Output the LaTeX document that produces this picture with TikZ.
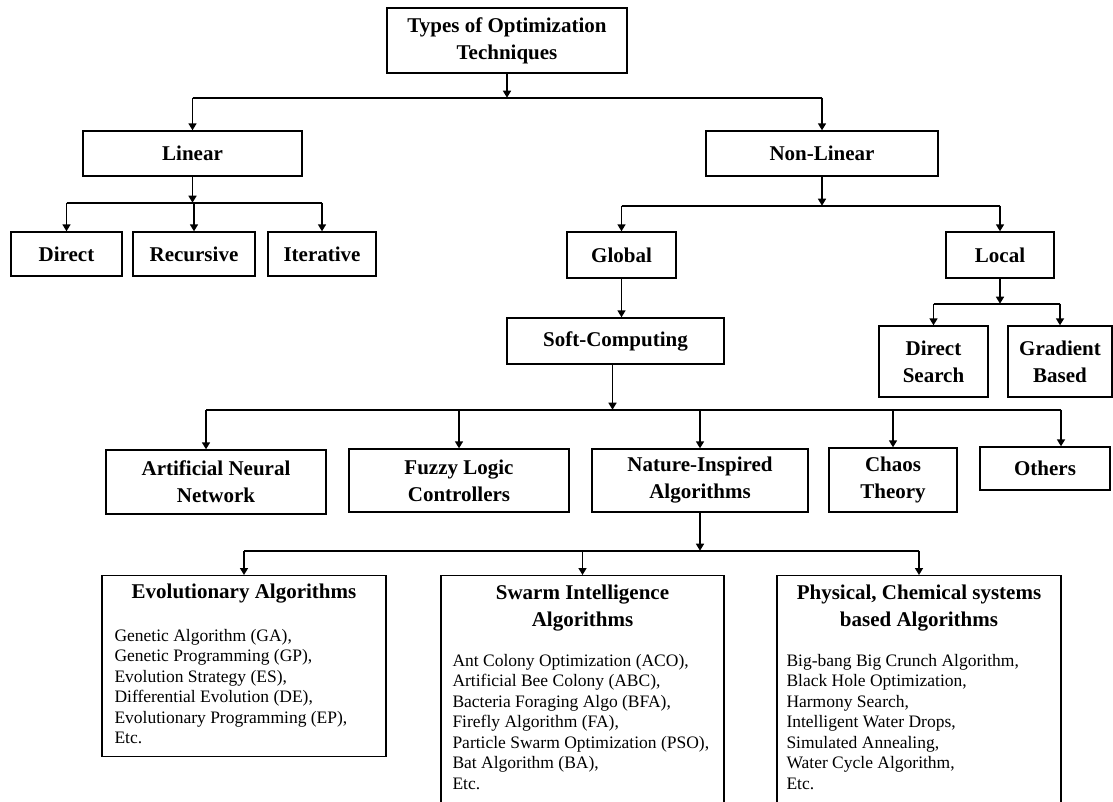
\documentclass[tikz,border=0pt]{standalone}
\usepackage{fontspec}
\setmainfont{Liberation Serif}
\usetikzlibrary{arrows.meta,calc}

\newcommand\hdfont{\fontsize{21}{27}\selectfont\bfseries}
\newcommand\lsfont{\fontsize{17.5}{20.5}\selectfont}

\tikzset{
  box/.style={draw=black, line width=1.4pt, fill=white, inner sep=0pt,
              align=center, font=\hdfont},
  arr/.style={-{Triangle[length=7pt,width=8pt]}, line width=1.6pt, draw=black},
  bus/.style={line width=1.6pt, draw=black},
  ttl/.style={inner sep=0pt, align=center, font=\hdfont},
  lst/.style={inner sep=0pt, align=left, font=\lsfont, anchor=north west},
}

\begin{document}
\begin{tikzpicture}[x=1pt,y=-1pt]
\useasboundingbox (0,0) rectangle (1113,801);

% ---- boxes ----
\node[box, minimum width=240pt, minimum height=65pt] (top) at (507,40.5) {Types of Optimization\\Techniques};

\node[box, minimum width=219pt, minimum height=45pt] (lin) at (192.5,153.5) {Linear};
\node[box, minimum width=232pt, minimum height=45pt] (nl)  at (822,153.5) {Non-Linear};

\node[box, minimum width=111pt, minimum height=44pt] (dir) at (66.5,254) {Direct};
\node[box, minimum width=122pt, minimum height=44pt] (rec) at (194,254) {Recursive};
\node[box, minimum width=108pt, minimum height=44pt] (itr) at (322,254) {Iterative};

\node[box, minimum width=109pt, minimum height=46pt] (glob) at (621.5,255) {Global};
\node[box, minimum width=108pt, minimum height=46pt] (loc)  at (1000,255) {Local};

\node[box, minimum width=109pt, minimum height=71pt] (ds) at (933.5,361.5) {Direct\\Search};
\node[box, minimum width=104pt, minimum height=71pt] (gb) at (1060,361.5) {Gradient\\Based};

\node[box, minimum width=217pt, minimum height=46pt] (soft) at (615.5,341) {Soft-Computing};

\node[box, minimum width=220pt, minimum height=64pt] (ann) at (216,482) {Artificial Neural\\Network};
\node[box, minimum width=220pt, minimum height=63pt] (fuz) at (459,480.5) {Fuzzy Logic\\Controllers};
\node[box, minimum width=216pt, minimum height=63pt] (nat) at (700,480.5) {Nature-Inspired\\Algorithms};
\node[box, minimum width=128pt, minimum height=64pt] (cha) at (893,480) {Chaos\\Theory};
\node[box, minimum width=130pt, minimum height=43pt] (oth) at (1045,468.5) {Others};

\node[box, minimum width=284pt, minimum height=181pt, anchor=north] (evo) at (244,575) {};
\node[box, minimum width=283pt, minimum height=240pt, anchor=north] (swa) at (582.5,575) {};
\node[box, minimum width=284pt, minimum height=240pt, anchor=north] (phy) at (919,575) {};

% ---- contents of the three algorithm families ----
\node[ttl] (evoT) at ($(evo.north)+(0,19)$) {Evolutionary Algorithms};
\node[lst] (evoL) at ($(evo.north west)+(13,54)$) {Genetic Algorithm (GA),\\Genetic Programming (GP),\\Evolution Strategy (ES),\\Differential Evolution (DE),\\Evolutionary Programming (EP),\\Etc.};

\node[ttl] (swaT) at ($(swa.north)+(0,33)$) {Swarm Intelligence\\Algorithms};
\node[lst] (swaL) at ($(swa.north west)+(12,79)$) {Ant Colony Optimization (ACO),\\Artificial Bee Colony (ABC),\\Bacteria Foraging Algo\ (BFA),\\Firefly Algorithm (FA),\\Particle Swarm Optimization (PSO),\\Bat Algorithm (BA),\\Etc.};

\node[ttl] (phyT) at ($(phy.north)+(0,33)$) {Physical, Chemical systems\\based Algorithms};
\node[lst] (phyL) at ($(phy.north west)+(10,79)$) {Big-bang Big\ Crunch Algorithm,\\Black Hole Optimization,\\Harmony Search,\\Intelligent Water Drops,\\Simulated Annealing,\\Water Cycle Algorithm,\\Etc.};

% ---- connectors ----
\path (top.south) ++(0,24) coordinate (j0);
\draw[arr] (top.south) -- (j0);
\draw[bus] (lin.north |- j0) -- (nl.north |- j0);
\draw[arr] (lin.north |- j0) -- (lin.north);
\draw[arr] (nl.north |- j0) -- (nl.north);

\path (lin.south) ++(0,26) coordinate (j1);
\draw[arr] (lin.south) -- (j1);
\draw[bus] (dir.north |- j1) -- (itr.north |- j1);
\draw[arr] (dir.north |- j1) -- (dir.north);
\draw[arr] (rec.north |- j1) -- (rec.north);
\draw[arr] (itr.north |- j1) -- (itr.north);

\path (nl.south) ++(0,29) coordinate (j2);
\draw[arr] (nl.south) -- (j2);
\draw[bus] (glob.north |- j2) -- (loc.north |- j2);
\draw[arr] (glob.north |- j2) -- (glob.north);
\draw[arr] (loc.north |- j2) -- (loc.north);

\path (loc.south) ++(0,25) coordinate (j3);
\draw[arr] (loc.south) -- (j3);
\draw[bus] (ds.north |- j3) -- (gb.north |- j3);
\draw[arr] (ds.north |- j3) -- (ds.north);
\draw[arr] (gb.north |- j3) -- (gb.north);

\draw[arr] (glob.south) -- (glob.south |- soft.north);

\path (soft.south) ++(-3,45) coordinate (j4);
\coordinate (annIn) at ($(ann.north)+(-10,0)$);
\coordinate (othIn) at ($(oth.north)+(16,0)$);
\draw[arr] ($(soft.south)+(-3,0)$) -- (j4);
\draw[bus] (annIn |- j4) -- (othIn |- j4);
\draw[arr] (annIn |- j4) -- (annIn);
\draw[arr] (fuz.north |- j4) -- (fuz.north);
\draw[arr] (nat.north |- j4) -- (nat.north);
\draw[arr] (cha.north |- j4) -- (cha.north);
\draw[arr] (othIn |- j4) -- (othIn);

\path (nat.south) ++(0,38) coordinate (j5);
\draw[arr] (nat.south) -- (j5);
\draw[bus] (evo.north |- j5) -- (phy.north |- j5);
\draw[arr] (evo.north |- j5) -- (evo.north);
\draw[arr] (swa.north |- j5) -- (swa.north);
\draw[arr] (phy.north |- j5) -- (phy.north);
\end{tikzpicture}
\end{document}
